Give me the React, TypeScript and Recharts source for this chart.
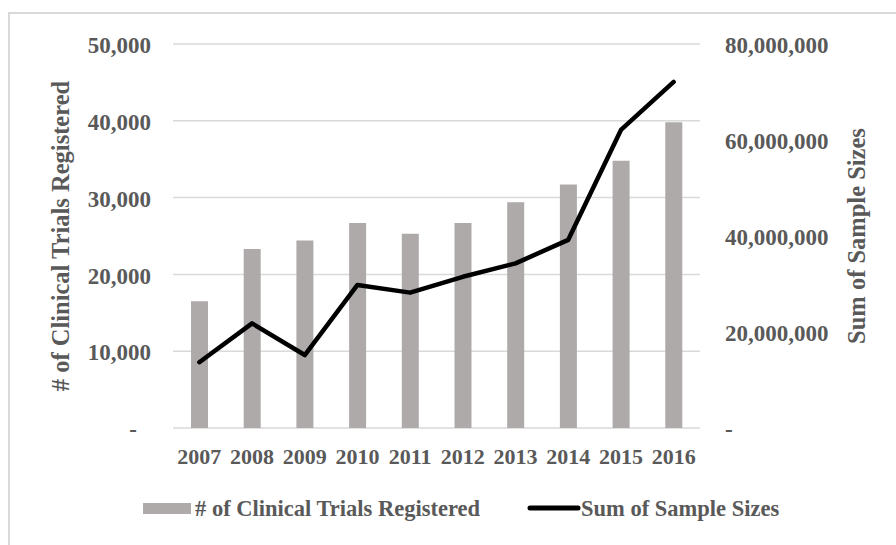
import React from "react";
import {
  ComposedChart,
  Bar,
  Line,
  XAxis,
  YAxis,
  CartesianGrid,
  Legend,
} from "recharts";

const years = ["2007", "2008", "2009", "2010", "2011", "2012", "2013", "2014", "2015", "2016"];
const trialsRegistered = [16500, 23300, 24400, 26700, 25300, 26700, 29400, 31700, 34800, 39800];
const sumSampleSizes = [13700000, 21800000, 15200000, 29800000, 28200000, 31500000, 34300000, 39200000, 62100000, 72100000];
const leftTicks = [0, 10000, 20000, 30000, 40000, 50000];
const rightTicks = [0, 20000000, 40000000, 60000000, 80000000];

const data = years.map((y, i) => ({
  year: y,
  trials: trialsRegistered[i],
  samples: sumSampleSizes[i],
}));

const FONT = "'Liberation Serif', 'Times New Roman', serif";
const TXT = "#595959";
const fmt = (v: number) => v.toLocaleString("en-US");

const LeftTick = (props: any) => {
  const { x, y, payload } = props;
  const v = payload.value as number;
  return (
    <text
      x={v === 0 ? x - 14 : x}
      y={y}
      dy="0.4em"
      textAnchor="end"
      fontFamily={FONT}
      fontWeight="bold"
      fontSize={23}
      fill={TXT}
    >
      {v === 0 ? "-" : fmt(v)}
    </text>
  );
};

const RightTick = (props: any) => {
  const { x, y, payload } = props;
  const v = payload.value as number;
  return (
    <text
      x={x}
      y={y}
      dy="0.4em"
      textAnchor="start"
      fontFamily={FONT}
      fontWeight="bold"
      fontSize={23}
      fill={TXT}
    >
      {v === 0 ? "-" : fmt(v)}
    </text>
  );
};

const BottomTick = (props: any) => {
  const { x, y, payload } = props;
  return (
    <text
      x={x}
      y={y}
      dy={36}
      textAnchor="middle"
      fontFamily={FONT}
      fontWeight="bold"
      fontSize={22}
      fill={TXT}
    >
      {payload.value}
    </text>
  );
};

const LegendContent = () => (
  <svg width={896} height={77} style={{ display: "block" }}>
    <rect x={143} y={35} width={48} height={11} fill="#aeaaaa" />
    <text
      x={195}
      y={48}
      fontFamily={FONT}
      fontWeight="bold"
      fontSize={22.5}
      fill={TXT}
    >
      # of Clinical Trials Registered
    </text>
    <line
      x1={530}
      y1={40}
      x2={578}
      y2={40}
      stroke="#000"
      strokeWidth={5}
      strokeLinecap="round"
    />
    <text
      x={581}
      y={48}
      fontFamily={FONT}
      fontWeight="bold"
      fontSize={22.5}
      fill={TXT}
    >
      Sum of Sample Sizes
    </text>
  </svg>
);

export default function App() {
  return (
    <div
      style={{
        position: "absolute",
        left: 0,
        top: 0,
        width: 896,
        height: 545,
        overflow: "hidden",
        background: "#fff",
      }}
    >
      <div
        style={{
          position: "absolute",
          left: 8,
          top: 12,
          width: 1000,
          height: 1000,
          border: "2px solid #d9d9d9",
          boxSizing: "border-box",
        }}
      />
      <div style={{ position: "absolute", left: 0, top: 0 }}>
        <ComposedChart
          width={896}
          height={545}
          data={data}
          margin={{ top: 44, right: 0, bottom: 0, left: 0 }}
        >
          <CartesianGrid
            yAxisId="left"
            vertical={false}
            stroke="#d9d9d9"
            strokeWidth={1.5}
          />
          <XAxis
            dataKey="year"
            height={40}
            axisLine={false}
            tickLine={false}
            tickSize={0}
            tickMargin={0}
            interval={0}
            tick={<BottomTick />}
          />
          <YAxis
            yAxisId="left"
            orientation="left"
            width={173}
            domain={[0, 50000]}
            ticks={leftTicks}
            axisLine={false}
            tickLine={false}
            tickSize={0}
            tickMargin={22}
            tick={<LeftTick />}
            label={{
              content: (p: any) => {
                const vb = p.viewBox;
                const cx = vb.x + 60;
                const cy = vb.y + vb.height / 2;
                return (
                  <text
                    x={cx}
                    y={cy}
                    transform={`rotate(-90, ${cx}, ${cy})`}
                    textAnchor="middle"
                    dominantBaseline="central"
                    fontFamily={FONT}
                    fontWeight="bold"
                    fontSize={24.5}
                    fill={TXT}
                  >
                    # of Clinical Trials Registered
                  </text>
                );
              },
            }}
          />
          <YAxis
            yAxisId="right"
            orientation="right"
            width={196}
            domain={[0, 80000000]}
            ticks={rightTicks}
            axisLine={false}
            tickLine={false}
            tickSize={0}
            tickMargin={25}
            tick={<RightTick />}
            label={{
              content: (p: any) => {
                const vb = p.viewBox;
                const cx = vb.x + 156;
                const cy = vb.y + vb.height / 2;
                return (
                  <text
                    x={cx}
                    y={cy}
                    transform={`rotate(-90, ${cx}, ${cy})`}
                    textAnchor="middle"
                    dominantBaseline="central"
                    fontFamily={FONT}
                    fontWeight="bold"
                    fontSize={24.5}
                    fill={TXT}
                  >
                    Sum of Sample Sizes
                  </text>
                );
              },
            }}
          />
          <Bar
            yAxisId="left"
            dataKey="trials"
            name="# of Clinical Trials Registered"
            fill="#aeaaaa"
            barSize={17}
            isAnimationActive={false}
          />
          <Line
            yAxisId="right"
            dataKey="samples"
            name="Sum of Sample Sizes"
            type="linear"
            stroke="#000"
            strokeWidth={4.5}
            strokeLinejoin="round"
            strokeLinecap="round"
            dot={false}
            activeDot={false}
            isAnimationActive={false}
          />
          <Legend
            verticalAlign="bottom"
            align="left"
            height={77}
            wrapperStyle={{ left: 0, margin: 0, padding: 0 }}
            content={<LegendContent />}
          />
        </ComposedChart>
      </div>
    </div>
  );
}
